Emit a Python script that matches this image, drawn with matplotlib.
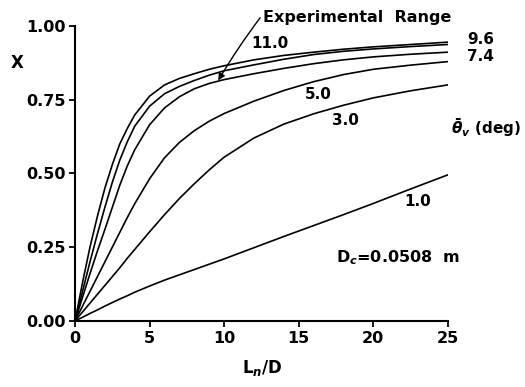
import matplotlib
matplotlib.use("Agg")
import matplotlib.pyplot as plt
from matplotlib.ticker import FormatStrFormatter

ld = [0, 0.5, 1, 1.5, 2, 2.5, 3, 3.5, 4, 5, 6, 7, 8, 9, 10, 12, 14, 16, 18, 20, 22.5, 25]

# X for each vane angle (deg)
x_11_0 = [0, 0.13, 0.25, 0.355, 0.45, 0.53, 0.60, 0.652, 0.698, 0.762, 0.80, 0.822, 0.838, 0.853,
          0.865, 0.885, 0.90, 0.911, 0.921, 0.929, 0.937, 0.945]
x_9_6 = [0, 0.10, 0.20, 0.295, 0.385, 0.47, 0.545, 0.607, 0.66, 0.728, 0.77, 0.795, 0.815, 0.833,
         0.848, 0.868, 0.887, 0.903, 0.914, 0.922, 0.93, 0.937]
x_7_4 = [0, 0.08, 0.16, 0.237, 0.31, 0.385, 0.46, 0.525, 0.58, 0.665, 0.722, 0.76, 0.787, 0.805,
         0.818, 0.838, 0.856, 0.872, 0.885, 0.895, 0.904, 0.911]
x_5_0 = [0, 0.05, 0.10, 0.15, 0.2, 0.25, 0.30, 0.35, 0.397, 0.482, 0.553, 0.605, 0.645, 0.677,
         0.703, 0.745, 0.781, 0.811, 0.835, 0.853, 0.867, 0.879]
x_3_0 = [0, 0.03, 0.06, 0.09, 0.12, 0.15, 0.18, 0.212, 0.242, 0.302, 0.36, 0.415, 0.465, 0.512,
         0.555, 0.62, 0.667, 0.702, 0.731, 0.756, 0.78, 0.80]
x_1_0 = [0, 0.012, 0.025, 0.037, 0.05, 0.062, 0.074, 0.085, 0.097, 0.118, 0.138, 0.156, 0.174, 0.192,
         0.21, 0.248, 0.286, 0.323, 0.36, 0.398, 0.447, 0.495]

curves = [x_11_0, x_9_6, x_7_4, x_5_0, x_3_0, x_1_0]

x_ticks = [0, 5, 10, 15, 20, 25]
y_ticks = [0.0, 0.25, 0.5, 0.75, 1.0]

plt.rcParams['font.family'] = ['DejaVu Sans']
plt.rcParams['font.weight'] = 'bold'

fig = plt.figure(figsize=(5.25, 3.87), dpi=100)
ax = fig.add_axes([0.143, 0.171, 0.710, 0.762])

for xs in curves:
    ax.plot(ld, xs, color='black', lw=1.2)

ax.set_xlim(0, 25)
ax.set_ylim(0, 1)
ax.set_xticks(x_ticks)
ax.set_yticks(y_ticks)
ax.yaxis.set_major_formatter(FormatStrFormatter('%.2f'))
ax.tick_params(direction='out', length=4, width=1.3, labelsize=11.5, pad=3)
for side in ['top', 'right']:
    ax.spines[side].set_visible(False)
for side in ['left', 'bottom']:
    ax.spines[side].set_linewidth(1.5)

# curve labels
kw = dict(fontsize=11, fontweight='bold', clip_on=False)
ax.text(13.1, 0.942, '11.0', ha='center', va='center', **kw)
ax.text(26.3, 0.955, '9.6', ha='left', va='center', **kw)
ax.text(26.3, 0.895, '7.4', ha='left', va='center', **kw)
ax.text(16.3, 0.766, '5.0', ha='center', va='center', **kw)
ax.text(18.1, 0.681, '3.0', ha='center', va='center', **kw)
ax.text(23.0, 0.403, '1.0', ha='center', va='center', **kw)
ax.text(25.2, 0.655, r'$\bar{\theta}_v$ (deg)', ha='left', va='center', **kw)
ax.text(17.5, 0.213, r'D$_c$=0.0508  m', ha='left', va='center', fontsize=11.5,
        fontweight='bold', clip_on=False)

ax.annotate('Experimental  Range', xy=(9.6, 0.815), xytext=(12.6, 1.03),
            fontsize=11.5, fontweight='bold', ha='left', va='center',
            annotation_clip=False,
            arrowprops=dict(arrowstyle='-|>', color='black', lw=1.0,
                            mutation_scale=10, relpos=(0, 0.7),
                            connectionstyle='arc3,rad=0.03',
                            shrinkA=0, shrinkB=0))

fig.text(17 / 525, 1 - 63 / 387, 'X', fontsize=12, ha='center', va='center')
fig.text(262 / 525, 1 - 368 / 387, r'L$_n$/D', fontsize=12, ha='center', va='center')

fig.savefig('out.png', dpi=100)
